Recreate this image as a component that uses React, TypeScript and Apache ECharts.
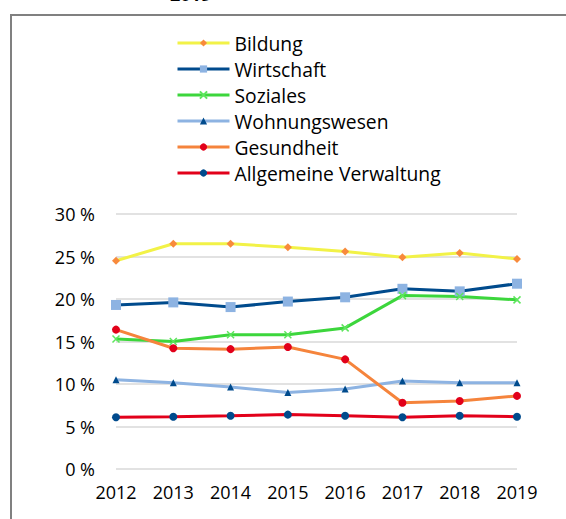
import React, { useEffect, useRef } from "react";
import * as echarts from "echarts";

const years = ["2012", "2013", "2014", "2015", "2016", "2017", "2018", "2019"];
const bildung = [24.5, 26.5, 26.5, 26.1, 25.6, 24.9, 25.4, 24.7];
const wirtschaft = [19.3, 19.6, 19.05, 19.7, 20.2, 21.2, 20.9, 21.8];
const soziales = [15.3, 15.0, 15.8, 15.8, 16.6, 20.4, 20.3, 19.9];
const wohnungswesen = [10.5, 10.15, 9.65, 9.0, 9.4, 10.35, 10.15, 10.15];
const gesundheit = [16.4, 14.2, 14.1, 14.35, 12.9, 7.8, 8.0, 8.6];
const verwaltung = [6.08, 6.15, 6.27, 6.4, 6.27, 6.08, 6.27, 6.15];

const FONT = "'Open Sans', 'Noto Sans', sans-serif";
const CROSS = "path://M0,0L10,10M10,0L0,10";

function mk(name: string, data: number[], line: string, marker: string, symbol: string, size: number, extra: any = {}) {
  return {
    name,
    type: "line",
    data,
    symbol,
    symbolSize: size,
    showAllSymbol: true,
    lineStyle: { color: line, width: 3 },
    itemStyle: { color: marker, ...extra },
    emphasis: { disabled: true },
  };
}

export default function App() {
  const ref = useRef<HTMLDivElement>(null);
  useEffect(() => {
    const chart = echarts.init(ref.current!, null, { renderer: "svg" });
    chart.setOption({
      animation: false,
      backgroundColor: "#ffffff",
      textStyle: { fontFamily: FONT },
      graphic: [
        {
          type: "rect",
          shape: { x: 11, y: 15, width: 700, height: 700 },
          style: { fill: "none", stroke: "#808080", lineWidth: 2 },
          silent: true,
        },
        {
          type: "text",
          x: 170,
          y: -15,
          style: { text: "2019", fontSize: 18, fontWeight: "bold", fill: "#000", fontFamily: FONT },
          silent: true,
        },
      ],
      legend: {
        orient: "vertical",
        left: 176,
        top: 33,
        padding: 0,
        itemWidth: 52,
        itemHeight: 9,
        itemGap: 6,
        lineStyle: { width: 3 },
        textStyle: { fontSize: 19.3, color: "#000", fontFamily: FONT, lineHeight: 20 },
        data: ["Bildung", "Wirtschaft", "Soziales", "Wohnungswesen", "Gesundheit", "Allgemeine Verwaltung"],
      },
      grid: { left: 116, right: 49, top: 214, bottom: 50, containLabel: false },
      xAxis: {
        type: "category",
        data: years,
        boundaryGap: false,
        axisLine: { show: false },
        axisTick: { show: false },
        axisLabel: { fontSize: 18, color: "#000", margin: 14, fontFamily: FONT },
      },
      yAxis: {
        type: "value",
        min: 0,
        max: 30,
        interval: 5,
        axisLine: { show: false },
        axisTick: { show: false },
        splitLine: { lineStyle: { color: "#d9d9d9", width: 1.5 } },
        axisLabel: { fontSize: 18, color: "#000", margin: 21, formatter: "{value} %", fontFamily: FONT },
      },
      series: [
        mk("Bildung", bildung, "#f2f247", "#f88a3c", "diamond", 8),
        mk("Wirtschaft", wirtschaft, "#004b8d", "#8db3e2", "rect", 10),
        mk("Soziales", soziales, "#3cd63c", "#5ee65e", CROSS, 7, { borderColor: "#5ee65e", borderWidth: 1.5 }),
        mk("Wohnungswesen", wohnungswesen, "#8db3e2", "#004b8d", "triangle", 7),
        mk("Gesundheit", gesundheit, "#f5843c", "#e2001a", "circle", 8),
        mk("Allgemeine Verwaltung", verwaltung, "#e2001a", "#004b8d", "circle", 8),
      ],
    });
    return () => chart.dispose();
  }, []);
  return <div ref={ref} style={{ position: "fixed", left: 0, top: 0, width: 566, height: 519 }} />;
}
